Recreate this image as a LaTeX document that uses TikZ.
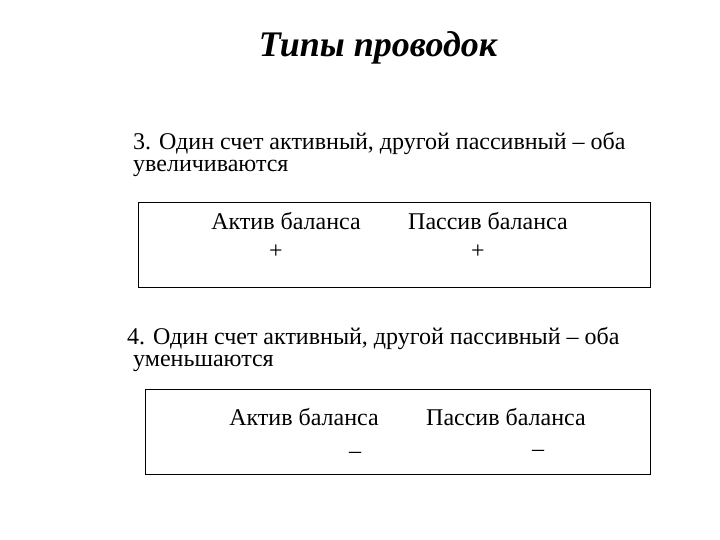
\documentclass[tikz,border=0pt]{standalone}
\usepackage{fontspec}
\setmainfont{Liberation Serif}
\begin{document}
\begin{tikzpicture}[x=1pt,y=-1pt,
  txt/.style={inner sep=0pt,font=\fontsize{24}{27}\selectfont},
  box/.style={draw,line width=0.8pt}]
\useasboundingbox (0,0) rectangle (720,540);
\node[inner sep=0pt,font=\fontsize{36}{40}\selectfont\bfseries\itshape] (title) at (378,48) {Типы проводок};
\node[txt,anchor=base west] (t3a) at (133,150) {3. Один счет активный, другой пассивный – оба};
\node[txt,anchor=base west] (t3b) at (133,172) {увеличиваются};
\node[box,minimum width=512pt,minimum height=85pt,anchor=north west] (b1) at (138,202) {};
\node[txt] (a1) at (286,221) {Актив баланса};
\node[txt] (p1) at (276,252) {+};
\node[txt] (a2) at (488,221) {Пассив баланса};
\node[txt] (p2) at (478,252) {+};
\node[txt,anchor=base west] (t4a) at (127,344) {4. Один счет активный, другой пассивный – оба};
\node[txt,anchor=base west] (t4b) at (133,366) {уменьшаются};
\node[box,minimum width=505pt,minimum height=85pt,anchor=north west] (b2) at (145,389) {};
\node[txt] (a3) at (304,417) {Актив баланса};
\node[txt] (m1) at (355,455) {–};
\node[txt] (a4) at (506,417) {Пассив баланса};
\node[txt] (m2) at (538,453) {–};
\end{tikzpicture}
\end{document}
